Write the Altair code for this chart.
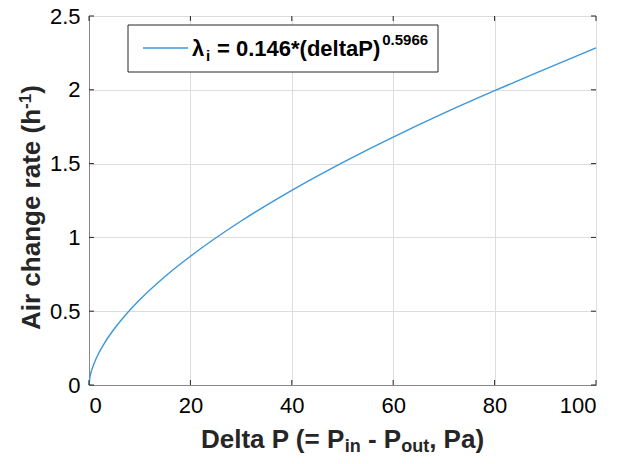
import altair as alt
import pandas as pd

# Values
delta_p = [0, 0.2, 0.5, 1, 2, 3, 5, 7, 10, 15, 20, 30, 40, 50, 60, 70, 80, 90, 100]
air_change = [0, 0.056, 0.097, 0.146, 0.221, 0.281, 0.381, 0.466, 0.577, 0.735,
              0.872, 1.111, 1.319, 1.507, 1.680, 1.842, 1.994, 2.140, 2.284]
x_ticks = [0, 20, 40, 60, 80, 100]
y_ticks = [0, 0.5, 1, 1.5, 2, 2.5]
legend_parts = ["λ", "i", "= 0.146*(deltaP)", "0.5966"]
x_title_parts = ["Delta P (= P", "in", "- P", "out", ", Pa)"]
y_title_parts = ["Air change rate (h", "-1", ")"]

W, H = 507, 369
FONT = "Liberation Sans"
AX = "#262626"
LINE = "#3b97d9"

df = pd.DataFrame({"dp": delta_p, "ach": air_change})
xt = pd.DataFrame({"v": x_ticks})
yt = pd.DataFrame({"v": y_ticks})
one = pd.DataFrame({"a": [0]})

xscale = alt.Scale(domain=[0, 100], nice=False)
yscale = alt.Scale(domain=[0, 2.5], nice=False)

line = alt.Chart(df).mark_line(color=LINE, strokeWidth=1.4, interpolate="monotone").encode(
    x=alt.X("dp:Q", scale=xscale, axis=alt.Axis(
        values=x_ticks, title="", labelFontSize=22,
        labelPadding=10, tickSize=0, grid=True)),
    y=alt.Y("ach:Q", scale=yscale, axis=alt.Axis(
        values=y_ticks, title="", labelFontSize=22,
        labelPadding=9, tickSize=0, grid=True,
        labelExpr="datum.value")),
)

tk = 5
xb = alt.Chart(xt).mark_rule(color=AX, strokeWidth=1).encode(
    x=alt.X("v:Q", scale=xscale), y=alt.value(H), y2=alt.value(H - tk))
xtop = alt.Chart(xt).mark_rule(color=AX, strokeWidth=1).encode(
    x=alt.X("v:Q", scale=xscale), y=alt.value(0), y2=alt.value(tk))
yl = alt.Chart(yt).mark_rule(color=AX, strokeWidth=1).encode(
    y=alt.Y("v:Q", scale=yscale), x=alt.value(0), x2=alt.value(tk))
yr = alt.Chart(yt).mark_rule(color=AX, strokeWidth=1).encode(
    y=alt.Y("v:Q", scale=yscale), x=alt.value(W), x2=alt.value(W - tk))


def txt(s, x, y, size, angle=0, color="black"):
    return alt.Chart(one).mark_text(
        text=s, font=FONT, fontWeight="bold", fontSize=size, angle=angle,
        align="left", baseline="alphabetic", color=color).encode(
        x=alt.value(x), y=alt.value(y))


box = alt.Chart(one).mark_rect(fill="white", stroke=AX, strokeWidth=1).encode(
    x=alt.value(39), x2=alt.value(349), y=alt.value(9), y2=alt.value(56))
leg_line = alt.Chart(one).mark_rule(color=LINE, strokeWidth=1.4).encode(
    x=alt.value(54), x2=alt.value(99), y=alt.value(32))
legend = [
    txt(legend_parts[0], 103, 40, 22),
    txt(legend_parts[1], 117, 45, 15),
    txt(legend_parts[2], 128, 40, 22),
    txt(legend_parts[3], 128 + 7.42 * 22 + 2, 29, 15),
]

# x title composed (main 26px, subscripts 18px), centred under the plot
mx, sx = 26, 18
w_main1 = 5.53 * mx
w_sub1 = 0.889 * sx
sp = 0.278 * mx
w_main2 = 1.278 * mx
w_sub2 = 1.555 * sx
w_main3 = 2.112 * mx
total = w_main1 + w_sub1 + sp + w_main2 + w_sub2 + w_main3
x0 = W / 2 - total / 2
bl = 432
sb = 436
xtitle = [
    txt(x_title_parts[0], x0, bl, mx, color=AX),
    txt(x_title_parts[1], x0 + w_main1, sb, sx, color=AX),
    txt(x_title_parts[2], x0 + w_main1 + w_sub1 + sp, bl, mx, color=AX),
    txt(x_title_parts[3], x0 + w_main1 + w_sub1 + sp + w_main2, sb, sx, color=AX),
    txt(x_title_parts[4], x0 + w_main1 + w_sub1 + sp + w_main2 + w_sub2, bl, mx, color=AX),
]

# y title composed, rotated
my, sy = 26, 17
h1 = 8.502 * my
h2 = 0.889 * sy
ybl = -49
y0 = 314
ytitle = [
    txt(y_title_parts[0], ybl, y0, my, angle=270, color=AX),
    txt(y_title_parts[1], ybl - 9, y0 - h1, sy, angle=270, color=AX),
    txt(y_title_parts[2], ybl, y0 - h1 - h2, my, angle=270, color=AX),
]

chart = alt.layer(line, xb, xtop, yl, yr, box, leg_line, *legend, *xtitle, *ytitle).properties(
    width=W, height=H,
    autosize=alt.AutoSizeParams(type="none"),
    padding={"left": 81, "top": 8, "right": 13, "bottom": 71},
).configure_view(stroke=AX, strokeWidth=1).configure_axis(
    labelFont=FONT, labelFontWeight="bold",
    labelColor="black", domainColor=AX, gridColor="#e3e3e3",
    domainWidth=1,
).configure(background="white")

chart.save("out.html", embed_options={"renderer": "svg", "actions": False})
